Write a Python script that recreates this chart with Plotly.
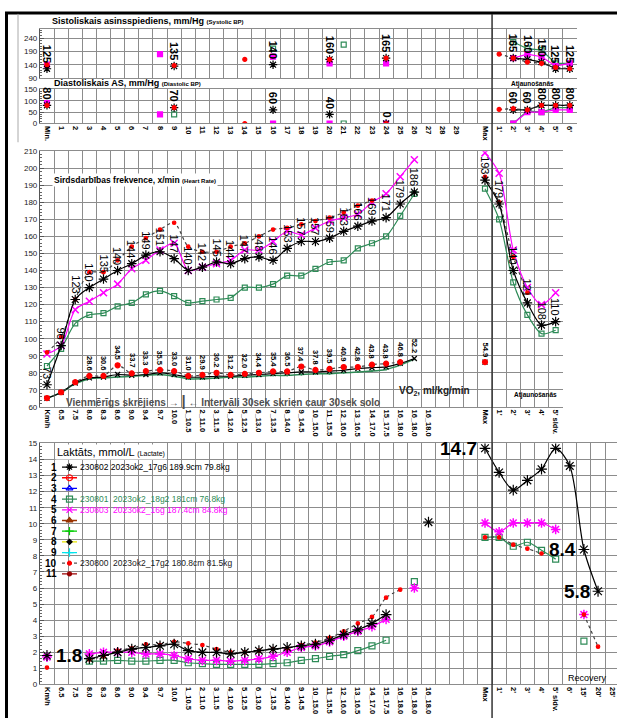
import plotly.graph_objects as go

W, H = 617, 723
_ = None

# ---------------- categories / tick labels ----------------
top_labels = ["Min."] + [str(i) for i in range(1, 30)] + ["", "Max", "1'", "2'", "3'", "4'", "5'", "6'"]
run_labels = ["Km/h", "6.5", "7.5", "8.0", "8.3", "8.6", "9.0", "9.4", "9.7", "10.0",
              "1_10.5", "2_11.0", "3_11.5", "4_12.0", "5_12.5", "6_13.0", "7_13.5", "8_14.0",
              "9_14.5", "10_15.0", "11_15.5", "12_16.0", "13_16.5", "14_17.0", "15_17.5",
              "16_18.0", "16_18.0", "16_18.0", "", "", "", "Max"]
hr_labels = run_labels + ["1'", "2'", "3'", "4'", "5' sldv."]
lac_labels = run_labels + ["1'", "2'", "3'", "4'", "5' sldv.", "6'", "15'", "20'", "25'"]

# ---------------- systolic BP (index = top_labels) ----------------
sys_black = [125, _, _, _, _, _, _, _, _, 135, _, _, _, _, _, _, 140, _, _, _,
             160, _, _, _, 165, _, _, _, _, _, _, _, _, 165, 160, 150, 125, 125]
sys_magenta = [140, _, _, _, _, _, _, _, 180, _, _, _, _, _, _, _, 170, _, _, _,
               145, _, _, _, 145, _, _, _, _, _, _, _, _, 165, 180, 170, 135, 145]
sys_green = [_, _, _, _, _, _, _, _, _, _, _, _, _, _, _, _, 200, _, _, _,
             _, 215, _, _, _, _, _, _, _, _, _, _, _, 225, 200, 195, 145, 145]
sys_red = [140, _, _, _, _, _, _, _, _, 137, _, _, _, _, 160, _, _, _, _, _,
           160, _, _, _, 165, _, _, _, _, _, _, _, 180, 165, 150, 145, 130, 125]

# ---------------- diastolic BP ----------------
dia_black = [80, _, _, _, _, _, _, _, _, 70, _, _, _, _, _, _, 60, _, _, _,
             40, _, _, _, 0, _, _, _, _, _, _, _, _, 60, 60, 80, 80, 80]
dia_magenta = [90, _, _, _, _, _, _, _, 40, _, _, _, _, _, _, _, 0, _, _, _,
               0, _, _, _, 0, _, _, _, _, _, _, _, _, 0, 50, 50, 60, 60]
dia_green = [_, _, _, _, _, _, _, _, _, 40, _, _, _, _, _, _, _, _, _, _,
             _, 0, _, _, _, _, _, _, _, _, _, _, _, 0, 55, 50, 70, 70]
dia_red = [80, _, _, _, _, _, _, _, _, 70, _, _, _, _, 0, _, _, _, _, _,
           _, _, _, _, 0, _, _, _, _, _, _, _, 62, 65, 60, 80, 80, 80]

# ---------------- heart rate (index = hr_labels) ----------------
hr_black = [73, 96, 123, 130, 135, 140, 144, 149, 151, 147, 140, 142, 145, 144, 147, 148, 146, 153,
            157, 157, 159, 163, 166, 169, 171, 179, 186, _, _, _, _, 193, 179, 140, 121, 108, 110]
hr_magenta = [91, 96, 117, 122, 127, 132, 141, 146, 152, 156, 140, 142, 144, 146, 152, 152, 157, 163,
              161, 165, 169, 171, 173, 180, 185, 195, 205, _, _, _, _, 209, 197, 152, 130, 120, 127]
hr_green = [84, 94, 109, 114, 115, 119, 121, 126, 128, 125, 121, 122, 123, 124, 130, 130, 132, 137,
            137, 141, 145, 146, 153, 156, 160, 172, 185, _, _, _, _, 188, 170, 133, 114, 103, 105]
hr_red = [92, 101, 123, 139, 139, 146, 154, 159, 164, 168, 154, 151, 151, 154, 156, 160, 164, 165,
          167, 169, 171, 174, 178, 181, _, _, _, _, _, _, _, 195, 180, 148, 127, _, _]

# VO2 curves drawn on the heart-rate scale, with their VO2 (ml/kg/min) labels
vo2_red = [65.2, 68.6, 74.5, 78.2, 78.2, 84.4, 79.7, 81.0, 81.7, 81.0, 78.2, 78.8, 80.0, 78.8, 79.4,
           80.0, 80.8, 80.8, 83.7, 81.7, 82.3, 83.4, 83.4, 84.8, 85.4, 86.3, _, _, _, _, _, 86.3, _, _, _, _, _]
vo2_black = [65, 68.5, 74, 77, 77.5, 79, 78.5, 79, 80, 79, 77.5, 77.5, 78, 78, 78.5, 79, 79.5, 80,
             80.5, 80.5, 81, 81.5, 82.5, 83, 83.5, 85.5, 88.4, _, _, _, _, 86.3, _, _, _, _, _]
vo2_green = [65, 68.5, 73.5, 76.5, 77, 77.5, 78, 78.5, 79, 78, 76.5, 76.5, 77, 77.5, 77.5, 78, 78.5,
             78.5, 79, 79.5, 79.5, 80, 80.5, 81, 82, 84.5, 88, _, _, _, _, _, _, _, _, _, _]
vo2_labels = [_, _, _, "28.6", "30.6", "34.5", "33.7", "33.3", "35.5", "33.0", "31.0", "29.9", "30.2",
              "31.2", "32.0", "34.4", "35.4", "36.5", "37.4", "37.8", "39.5", "40.9", "42.8", "43.8",
              "43.8", "46.8", "52.2", _, _, _, _, "54.9", _, _, _, _, _]

# ---------------- lactate (index = lac_labels) ----------------
lac_black = [1.8, _, _, 1.6, 1.8, 2.0, 2.2, 2.3, 2.4, 2.5, 2.1, 2.0, 2.0, 1.9, 2.0, 2.1, 2.2, 2.3,
             2.4, 2.5, 2.75, 3.1, 3.4, 3.8, 4.35, _, _, 10.1, _, _, _, 14.7, 13.2, 12.1, 12.7, 13.4,
             14.7, 13.6, 8.4, 5.8, _]
lac_magenta = [1.7, _, _, 1.9, 2.0, 2.0, 2.0, 1.9, 1.9, 1.8, 1.6, 1.5, 1.5, 1.45, 1.5, 1.6, 1.75, 2.0,
               2.3, 2.4, 2.65, 3.0, 3.3, 3.6, 4.05, _, 6.0, _, _, _, _, 10.05, 9.5, 10.05, 10.05, 10.05,
               9.65, _, 4.35, _, _]
lac_green = [_, _, _, 1.45, 1.45, 1.5, 1.45, 1.45, 1.5, 1.5, 1.35, 1.3, 1.25, 1.25, 1.25, 1.25, 1.3, 1.35,
             1.5, 1.6, 1.75, 1.85, 2.1, 2.4, 2.75, _, 6.4, _, _, _, _, 9.15, 9.15, 8.6, 8.85, 8.35,
             7.8, _, 2.7, _, _]
lac_red = [1.05, _, _, 1.55, 1.75, 2.1, 2.25, 2.5, 2.45, 2.65, 2.55, 2.45, 2.2, 2.0, 2.0, 2.1, 2.2, 2.25,
           2.45, 2.6, 2.9, 3.3, 3.8, 4.2, 5.4, 5.9, _, _, _, _, _, 9.15, 9.15, 8.7, 8.45, 8.15,
           _, _, 4.35, 2.35, _]
lac_callout_idx = [0, 31, 38, 39]

# ---------------- legend ----------------
legend_rows = list(range(1, 12))
legend_names = ["230802 2023ok2_17g6 189.9cm 79.8kg", "", "", "230801  2023ok2_18g2 181cm 76.8kg",
                "230803  2023ok2_16g 187.4cm 84.8kg", "", "", "", "", "230800  2023ok2_17g2 180.8cm 81.5kg", ""]

# ---------------- styling ----------------
GREEN = "#2e8b57"
MAGENTA = "#ff00ff"
GRID = "#8c8c8c"
FONT = "Liberation Sans, Arial, sans-serif"
legend_line_colors = ["black", "red", "blue", GREEN, MAGENTA, "#993300", "#00cc00", "#e6e600", "#00e5ee", "#555555", "#990000"]
legend_marker_colors = ["black", "red", "blue", GREEN, MAGENTA, "#993300", "#00cc00", "black", "#00e5ee", "red", "#990000"]
legend_symbols = ["asterisk-open", "circle-open", "triangle-up-open", "square-open", "x-thin-open", "triangle-up",
                  "cross-thin-open", "diamond", "cross-thin-open", "circle", "circle"]
legend_text_colors = ["black", "black", "black", GREEN, MAGENTA, "black", "black", "black", "black", "#222", "black"]


def pxx(x):
    return x / W


def pxy(y):
    return 1 - y / H


def ydom(top, bottom):
    return [1 - bottom / H, 1 - top / H]


fig = go.Figure()


def add(xa, ya, y, color, symbol, size, dash="solid", width=1.2, mcolor=None, shape="spline", mwidth=1.2):
    mc = mcolor or color
    fig.add_trace(go.Scatter(
        x=list(range(len(y))), y=y, xaxis=xa, yaxis=ya, mode="lines+markers",
        line=dict(color=color, width=width, dash=dash, shape=shape, smoothing=0.8),
        marker=dict(symbol=symbol, size=size, color=mc, line=dict(color=mc, width=mwidth)),
        connectgaps=False, showlegend=False, hoverinfo="skip"))


# systolic
add("x", "y", sys_green, GREEN, "square-open", 5, shape="linear")
add("x", "y", sys_magenta, MAGENTA, "square", 5, shape="linear")
add("x", "y", sys_black, "black", "asterisk-open", 7, shape="linear")
add("x", "y", sys_red, "#333", "circle", 4, dash="dot", mcolor="red", shape="linear")
# diastolic
add("x2", "y2", dia_green, GREEN, "square-open", 5, shape="linear")
add("x2", "y2", dia_magenta, MAGENTA, "square", 5, shape="linear")
add("x2", "y2", dia_black, "black", "asterisk-open", 7, shape="linear")
add("x2", "y2", dia_red, "#333", "circle", 4, dash="dot", mcolor="red", shape="linear")
# heart rate
add("x3", "y3", hr_green, GREEN, "square-open", 5)
add("x3", "y3", hr_magenta, MAGENTA, "x-thin-open", 7, mwidth=1.5)
add("x3", "y3", hr_red, "#444", "circle", 3.5, dash="dot", mcolor="red")
add("x3", "y3", hr_black, "black", "asterisk-open", 8)
# VO2
add("x3", "y3", vo2_green, GREEN, "circle", 1, width=1.5)
add("x3", "y3", vo2_black, "black", "x-thin-open", 5)
add("x3", "y3", vo2_red, "#444", "circle", 5, dash="dot", mcolor="red")
# lactate
add("x4", "y4", lac_green, GREEN, "square-open", 6)
add("x4", "y4", lac_magenta, MAGENTA, "asterisk-open", 8, mwidth=1.5)
add("x4", "y4", lac_red, "#444", "circle", 3.5, dash="dot", mcolor="red")
add("x4", "y4", lac_black, "black", "asterisk-open", 9)

# legend samples on their own axis
for r, lc, mc, sym in zip(legend_rows, legend_line_colors, legend_marker_colors, legend_symbols):
    fig.add_trace(go.Scatter(x=[2.2, 3.7], y=[r, r], xaxis="x5", yaxis="y5", mode="lines",
                             line=dict(color=lc, width=1.3, dash="dot" if r == 10 else "solid"),
                             showlegend=False, hoverinfo="skip"))
    fig.add_trace(go.Scatter(x=[2.95], y=[r], xaxis="x5", yaxis="y5", mode="markers",
                             marker=dict(symbol=sym, size=6 if r not in (8, 10, 11) else 4, color=mc,
                                         line=dict(color=mc, width=1.2)),
                             showlegend=False, hoverinfo="skip"))
    fig.add_annotation(x=1.9, y=r, xref="x5", yref="y5", text="<b>%d</b>" % r, showarrow=False,
                       xanchor="right", yanchor="middle", font=dict(family=FONT, size=10, color="black"))
for r, name, tc in zip(legend_rows, legend_names, legend_text_colors):
    if name:
        fig.add_annotation(x=3.8, y=r, xref="x5", yref="y5", text=name, showarrow=False,
                           xanchor="left", yanchor="middle", font=dict(family=FONT, size=8.5, color=tc))


def rot_labels(xa, ya, values, texts, size, bold=False, yshift=3, color="black"):
    for i, (v, t) in enumerate(zip(values, texts)):
        if v is None or t is None:
            continue
        txt = "<b>%s</b>" % t if bold else str(t)
        fig.add_annotation(x=i, y=v, xref=xa, yref=ya, text=txt, textangle=90, showarrow=False,
                           xanchor="center", yanchor="bottom", yshift=yshift,
                           font=dict(family=FONT, size=size, color=color))


rot_labels("x", "y", sys_black, sys_black, 11, bold=True, yshift=4)
rot_labels("x2", "y2", dia_black, dia_black, 11, bold=True, yshift=4)
rot_labels("x3", "y3", hr_black, hr_black, 11, yshift=4)
vo2_pos = [(b if r is None else (r if b is None else max(r, b))) for r, b in zip(vo2_red, vo2_black)]
rot_labels("x3", "y3", vo2_pos, vo2_labels, 7.5, bold=True, yshift=3)

for i in lac_callout_idx:
    left = i == 0
    fig.add_annotation(x=i, y=lac_black[i], xref="x4", yref="y4", text="<b>%s</b>" % lac_black[i],
                       showarrow=False, xanchor="left" if left else "right", yanchor="middle",
                       xshift=7 if left else -6, font=dict(family=FONT, size=19, color="black"))


def xcfg(domain, rng, labels, show):
    vals = [i for i, t in enumerate(labels) if t]
    return dict(domain=domain, range=rng, tickmode="array", tickvals=vals,
                ticktext=[labels[i] for i in vals], showticklabels=show, tickangle=90,
                tickfont=dict(family=FONT, size=7.5, color="black", weight="bold"),
                ticks="", showgrid=False, zeroline=False, showline=True, mirror=True,
                linecolor=GRID, linewidth=1.2, fixedrange=True,
                minor=dict(tickmode="linear", tick0=-0.5, dtick=1, showgrid=True,
                           gridcolor=GRID, gridwidth=1.2, ticks=""))


def ycfg(domain, rng, tick0, dtick, anchor):
    return dict(domain=domain, range=rng, anchor=anchor, tickmode="linear", tick0=tick0, dtick=dtick,
                showgrid=True, gridcolor=GRID, gridwidth=1.2, zeroline=False, showline=True,
                linecolor="#555", linewidth=1, ticks="inside", ticklen=4, tickcolor="#555",
                tickfont=dict(family=FONT, size=8, color="#222"), fixedrange=True,
                minor=dict(dtick=dtick / 5, tick0=tick0, ticks="inside", ticklen=2, tickcolor="#666",
                           showgrid=False))


X0 = 39.9
STEP = 14.13
layout = dict(
    width=W, height=H, margin=dict(l=0, r=0, t=0, b=0),
    paper_bgcolor="white", plot_bgcolor="rgba(0,0,0,0)", showlegend=False,
    xaxis=xcfg([pxx(X0), pxx(X0 + 38 * STEP)], [-0.5, 37.5], top_labels, False),
    xaxis2=xcfg([pxx(X0), pxx(X0 + 38 * STEP)], [-0.5, 37.5], top_labels, True),
    xaxis3=xcfg([pxx(X0), pxx(X0 + 37 * STEP)], [-0.5, 36.5], hr_labels, True),
    xaxis4=xcfg([pxx(X0), 1.0], [-0.5, -0.5 + (W - X0) / STEP], lac_labels, True),
    xaxis5=dict(domain=[pxx(40), pxx(300)], range=[0, 26], visible=False, fixedrange=True, anchor="y5"),
    yaxis=ycfg(ydom(25, 75), [90, 275], 90, 50, "x"),
    yaxis2=ycfg(ydom(86, 121), [0, 152], 0, 50, "x2"),
    yaxis3=ycfg(ydom(149, 408), [60, 210], 60, 10, "x3"),
    yaxis4=ycfg(ydom(445, 689), [0, 15], 0, 1, "x4"),
    yaxis5=dict(domain=ydom(463.5, 582.5), range=[11.5, 0.5], visible=False, fixedrange=True, anchor="x5"),
)
layout["xaxis"]["anchor"] = "y"
layout["xaxis2"]["anchor"] = "y2"
layout["xaxis3"]["anchor"] = "y3"
layout["xaxis4"]["anchor"] = "y4"
fig.update_layout(**layout)

# frame lines of the sheet and the recovery divider
fig.add_shape(type="line", xref="paper", yref="paper", x0=pxx(5), x1=1, y0=pxy(9), y1=pxy(9),
              line=dict(color="black", width=3))
fig.add_shape(type="line", xref="paper", yref="paper", x0=pxx(6.5), x1=pxx(6.5), y0=0, y1=pxy(8),
              line=dict(color="black", width=3))
fig.add_shape(type="line", xref="paper", yref="paper", x0=pxx(18), x1=pxx(18), y0=pxy(140), y1=pxy(10),
              line=dict(color="#aaaaaa", width=1))
fig.add_shape(type="line", xref="x4", yref="paper", x0=31.5, x1=31.5, y0=0, y1=pxy(10),
              line=dict(color="#333", width=1.5))


def text(x, y, s, size, xanchor="left", color="black", bg=None):
    fig.add_annotation(x=pxx(x), y=pxy(y), xref="paper", yref="paper", text=s, showarrow=False,
                       xanchor=xanchor, yanchor="middle", font=dict(family=FONT, size=size, color=color),
                       bgcolor=bg, borderpad=1)


text(50, 17, "<b>Sistoliskais asinsspiediens, mm/Hg</b> <b><span style='font-size:6px'>(Systolic BP)</span></b>", 9)
text(52, 80, "<b>Diastoliskais AS, mm/Hg</b> <b><span style='font-size:6px'>(Diastolic BP)</span></b>", 9)
text(52, 178, "<b>Sirdsdarbības frekvence, x/min</b> <b><span style='font-size:6px'>(Heart Rate)</span></b>", 8.5, bg="white")
text(55, 454, "Laktāts, mmol/L <span style='font-size:7px'>(Lactate)</span>", 11, bg="white")
text(64, 402, "<b>Vienmērīgs skrējiens → <span style='font-size:15px'>|</span> ← Intervāli 30sek skrien caur 30sek solo</b>",
     10, color="#505050")
text(397, 392, "<b>VO<sub>2</sub>, ml/kg/min</b>", 10, color="#222")
text(535, 396, "<b>Atjaunošanās</b>", 6.5, xanchor="center")
text(532, 81, "<b>Atjaunošanās</b>", 6.5, xanchor="center")
text(587, 682, "Recovery", 9, xanchor="center")

fig.write_html("out.html", config={"displayModeBar": False},
               post_script="document.body.style.margin='0';document.body.style.overflow='hidden';")
